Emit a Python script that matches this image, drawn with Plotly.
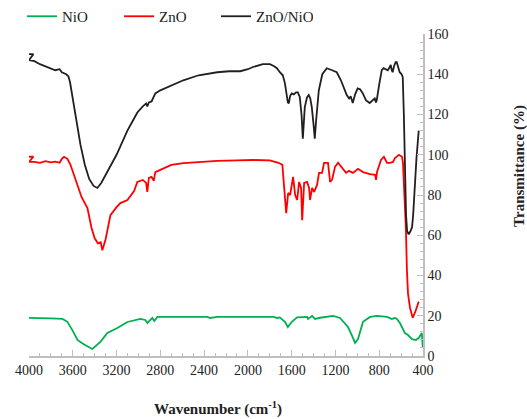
import plotly.graph_objects as go

# ZnO/NiO (black)
wn_znonio = [4000, 3960, 4000, 3950, 3900, 3850, 3800, 3760, 3720, 3700, 3660, 3640, 3625, 3600, 3570,
             3530, 3490, 3450, 3410, 3375, 3340, 3300, 3256, 3200, 3150, 3101, 3050, 3010, 2960, 2930,
             2919, 2905, 2880, 2860, 2846, 2800, 2700, 2590, 2450, 2280, 2170, 2070, 2000, 1954, 1863,
             1799, 1760, 1735, 1708, 1681, 1662, 1645, 1635, 1626, 1615, 1600, 1580, 1560, 1544, 1526,
             1510, 1498, 1488, 1480, 1460, 1444, 1430, 1416, 1400, 1389, 1375, 1352, 1320, 1279, 1230,
             1188, 1150, 1097, 1075, 1060, 1042, 1020, 997, 975, 951, 920, 887, 860, 841, 830,
             823, 800, 777, 760, 740, 722, 705, 695, 685, 677, 665, 650, 640, 625, 613,
             595, 585, 575, 565, 555, 545, 531, 515, 500, 490, 475, 460, 439]
t_znonio = [150, 150, 147, 146.5, 145, 144, 143, 142, 142.5, 141, 140, 139, 136, 128, 117,
            105, 95, 88, 84.5, 83.5, 86, 90, 94, 100, 106, 112, 117, 121, 124, 125.5,
            124, 126, 126.5, 129, 130.5, 132, 134.5, 137, 139.5, 141, 141.5, 141.5, 142.5, 143.6, 145,
            145, 144, 143, 141, 139.5, 135.6, 130, 126, 125.5, 129, 130.5, 130, 131, 131, 128.7,
            120, 108, 118, 123.7, 128.5, 129.7, 128, 123.7, 115, 108, 118, 132, 140, 143, 142,
            141, 137, 129.7, 128, 129, 125.7, 130, 133, 132.5, 130.6, 127, 125.7, 127, 128, 126,
            127, 135, 142, 143, 142.5, 142, 143.5, 144.6, 142, 141, 144, 146, 146, 143, 141,
            140, 138.6, 120, 95, 70, 62, 60.5, 62, 64, 70, 85, 98, 112]

# ZnO (red)
wn_zno = [4000, 3960, 4000, 3950, 3900, 3850, 3800, 3760, 3720, 3700, 3680, 3660, 3649, 3621, 3590,
          3557, 3520, 3466, 3430, 3400, 3370, 3345, 3330, 3300, 3256, 3200, 3165, 3101, 3040, 3010,
          2960, 2930, 2919, 2905, 2880, 2860, 2846, 2800, 2700, 2590, 2450, 2280, 2100, 1954, 1800,
          1720, 1685, 1667, 1650, 1632, 1614, 1587, 1568, 1550, 1532, 1514, 1504, 1486, 1459, 1441,
          1432, 1413, 1395, 1368, 1350, 1322, 1304, 1268, 1249, 1231, 1204, 1176, 1140, 1103, 1076,
          1040, 994, 948, 884, 838, 829, 820, 784, 757, 729, 702, 674, 656, 620, 592,
          583, 556, 547, 537, 519, 494, 470, 439]
t_zno = [99, 99, 96.5, 96.5, 96, 96.8, 96.2, 96.6, 96, 98, 99, 98.5, 98, 95, 90,
         84, 79, 73.5, 64, 58.5, 56, 56.5, 52.5, 58, 70, 74, 76, 77.5, 82, 86.5,
         87.5, 86, 81.5, 88.5, 89, 87, 91.4, 92.5, 95, 95.8, 96.5, 97, 97.2, 97.4, 97.2,
         96, 95, 82.5, 71, 81, 80, 89, 80, 77.5, 86.5, 83.5, 67.5, 86, 86.5, 83.5,
         77.5, 83.5, 81.5, 85, 91, 91, 96, 96, 86.5, 87.5, 94, 96, 93.4, 91, 92,
         91, 93, 91.4, 90.4, 90, 87.5, 91.4, 97.4, 99, 96, 96, 96.4, 98.4, 100, 99,
         96, 62.6, 42.7, 31, 24, 19, 22, 27]

# NiO (green)
wn_nio = [4000, 3900, 3800, 3694, 3649, 3600, 3557, 3500, 3421, 3348, 3284, 3193, 3101, 2983, 2937,
          2918, 2873, 2855, 2827, 2600, 2372, 2344, 2280, 2000, 1763, 1735, 1708, 1662, 1635, 1599,
          1550, 1459, 1450, 1413, 1404, 1386, 1340, 1222, 1158, 1085, 1040, 1021, 994, 948, 884,
          820, 729, 684, 656, 638, 611, 565, 537, 501, 465, 439, 411, 402]
t_nio = [18.9, 18.9, 18.7, 18.4, 17, 12.5, 8, 5.8, 3.5, 7, 11.4, 13.9, 16.9, 18.4, 17.9,
         16.4, 18.9, 17.4, 19.4, 19.4, 19.4, 18.9, 19.4, 19.4, 19.4, 18.9, 19.2, 17, 14.4, 17,
         19.2, 19.4, 18.4, 19.9, 19.4, 18.4, 19, 19.9, 18.9, 14.4, 9, 6.5, 8.4, 17, 19.4,
         19.9, 19.4, 18.4, 18.9, 18.4, 16.4, 11.4, 10.4, 8.4, 7.9, 8.9, 11.4, 4.5]

x_ticks = [4000, 3600, 3200, 2800, 2400, 2000, 1600, 1200, 800, 400]
y_ticks = [0, 20, 40, 60, 80, 100, 120, 140, 160]

FONT = "Liberation Serif"
TXT = "#222222"

fig = go.Figure()
fig.add_trace(go.Scatter(x=wn_nio, y=t_nio, mode="lines", name="NiO",
                         line=dict(color="#00b050", width=1.8)))
fig.add_trace(go.Scatter(x=wn_zno, y=t_zno, mode="lines", name="ZnO",
                         line=dict(color="#ff0000", width=1.8)))
fig.add_trace(go.Scatter(x=wn_znonio, y=t_znonio, mode="lines", name="ZnO/NiO",
                         line=dict(color="#231f20", width=1.8)))

axis_col = "#bfbfbf"
fig.update_layout(
    width=527, height=419,
    margin=dict(l=28.5, r=104, t=34, b=63, autoexpand=False),
    plot_bgcolor="white", paper_bgcolor="white",
    font=dict(family=FONT, size=14, color=TXT),
    showlegend=True,
    legend=dict(orientation="h", xref="container", yref="container",
                x=22 / 527, y=1.0, xanchor="left", yanchor="top",
                entrywidth=52, entrywidthmode="pixels",
                font=dict(family=FONT, size=15, color=TXT),
                bgcolor="rgba(0,0,0,0)"),
    xaxis=dict(range=[4000, 400], tickvals=x_ticks, ticktext=[str(v) for v in x_ticks],
               showgrid=False, zeroline=False, showline=True, linecolor=axis_col, linewidth=1.5,
               ticks="inside", ticklen=6, tickcolor=axis_col, tickwidth=1,
               minor=dict(dtick=100, ticks="inside", ticklen=3, tickcolor=axis_col, showgrid=False),
               tickfont=dict(family=FONT, size=14, color=TXT)),
    yaxis=dict(range=[0, 160], tickvals=y_ticks, side="right",
               showgrid=False, zeroline=False, showline=True, linecolor=axis_col, linewidth=1.5,
               ticks="inside", ticklen=6, tickcolor=axis_col, tickwidth=1,
               minor=dict(dtick=4, ticks="inside", ticklen=3, tickcolor=axis_col, showgrid=False),
               tickfont=dict(family=FONT, size=14, color=TXT)),
    annotations=[
        dict(text="<b>Wavenumber (cm<sup>-1</sup>)</b>", xref="paper", yref="paper",
             x=(218 - 28.5) / 394.5, y=-(408 - 356) / 322, xanchor="center", yanchor="middle",
             showarrow=False, font=dict(family=FONT, size=15, color=TXT)),
        dict(text="<b>Transmittance (%)</b>", xref="paper", yref="paper",
             x=(519 - 28.5) / 394.5, y=(356 - 166) / 322, xanchor="center", yanchor="middle",
             textangle=-90, showarrow=False, font=dict(family=FONT, size=15, color=TXT)),
    ],
)

fig.write_html("out.html", config={"displayModeBar": False},
               post_script="document.body.style.margin='0';document.body.style.overflow='hidden';")
